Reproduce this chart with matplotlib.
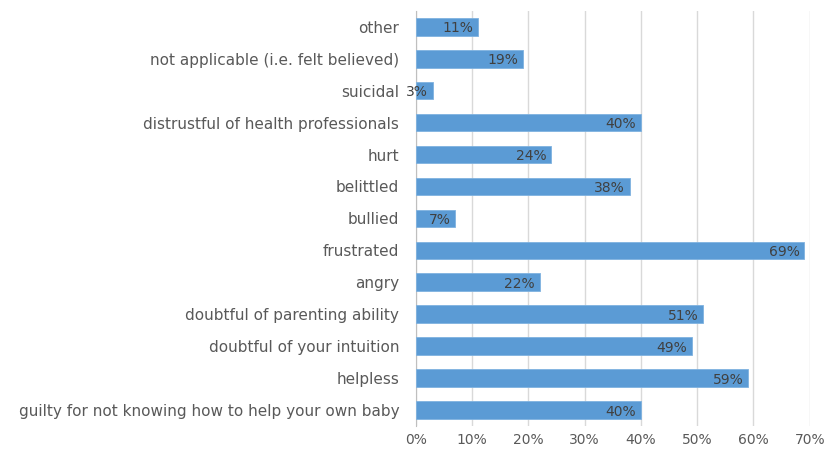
import matplotlib.pyplot as plt
from matplotlib.ticker import FuncFormatter

categories = ['other', 'not applicable (i.e. felt believed)', 'suicidal',
              'distrustful of health professionals', 'hurt', 'belittled',
              'bullied', 'frustrated', 'angry', 'doubtful of parenting ability',
              'doubtful of your intuition', 'helpless',
              'guilty for not knowing how to help your own baby']
values = [11, 19, 3, 40, 24, 38, 7, 69, 22, 51, 49, 59, 40]
xticks = [0, 10, 20, 30, 40, 50, 60, 70]

fig = plt.figure(figsize=(8.4, 4.55), dpi=100)
ax = fig.add_axes([0.495, 0.064, 0.469, 0.912])

pos = list(range(len(categories)))
ax.barh(pos, values, height=0.55, color='#5B9BD5', edgecolor='#7FB2E0', linewidth=0.6, zorder=3)
for p, v in zip(pos, values):
    ax.text(v - 0.8, p + 0.05, f'{v}%', ha='right', va='center', fontsize=10,
            color='#404040', zorder=4)

ax.set_yticks(pos)
ax.set_yticklabels(categories, fontsize=11, color='#595959')
ax.set_ylim(len(categories) - 0.5, -0.5)
ax.set_xlim(0, 70)
ax.set_xticks(xticks)
ax.xaxis.set_major_formatter(FuncFormatter(lambda x, _: f'{x:.0f}%'))
ax.tick_params(axis='x', labelsize=10, labelcolor='#595959', length=0, pad=5)
ax.tick_params(axis='y', length=0, pad=12)
ax.grid(axis='x', color='#D9D9D9', linewidth=1, zorder=0)
for s in ['top', 'right', 'bottom']:
    ax.spines[s].set_visible(False)
ax.spines['left'].set_color('#BFBFBF')

fig.savefig('out.png', dpi=100)
